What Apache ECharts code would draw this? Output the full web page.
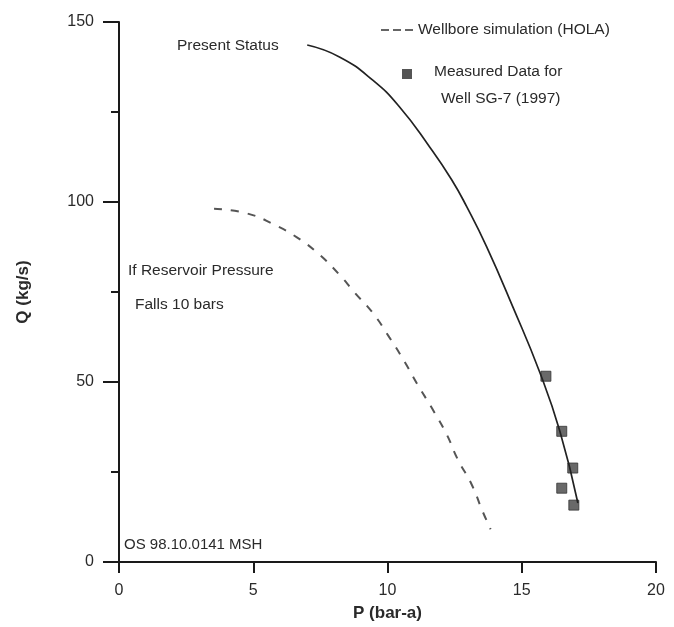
<!DOCTYPE html>
<html>
<head>
<meta charset="utf-8">
<script src="https://cdn.jsdelivr.net/npm/echarts@6/dist/echarts.min.js"></script>
<style>html,body{margin:0;padding:0;background:#fff}#c{width:674px;height:627px}</style>
</head>
<body>
<div id="c"></div>
<script>
// Present status curve (P bar-a, Q kg/s)
var presentP = [7.01, 8.21, 9.44, 10.45, 11.57, 12.39, 12.95, 13.69, 14.66, 15.67, 16.42, 17.09];
var presentQ = [143.6, 140.3, 133.9, 126.4, 115.3, 106.2, 98.7, 87.6, 71.0, 52.7, 36.3, 16.4];
// Reservoir pressure falls 10 bars curve
var fallP = [3.54, 4.78, 5.78, 6.64, 7.46, 8.21, 8.77, 9.44, 10.07, 10.63, 11.12, 11.68, 12.20, 12.61, 13.13, 13.54, 13.84];
var fallQ = [98.1, 96.8, 93.7, 90.1, 85.4, 79.8, 74.9, 69.3, 62.4, 55.7, 49.3, 42.4, 35.5, 28.6, 21.6, 14.1, 9.1];
// Measured data, well SG-7 (1997)
var measP = [15.90, 16.49, 16.90, 16.49, 16.94];
var measQ = [51.6, 36.3, 26.1, 20.5, 15.8];
var xTicks = [0, 5, 10, 15, 20];
var yTicks = [0, 50, 100, 150];

function zip(a, b) { return a.map(function (v, i) { return [v, b[i]]; }); }

var FONT = 'Liberation Sans';
var TXT = { fontFamily: FONT, fontSize: 15.5, fill: '#2a2a2a' };
function txt(s, extra) { var o = Object.assign({}, TXT, extra || {}); o.text = s; return o; }

var chart = echarts.init(document.getElementById('c'));
chart.setOption({
  animation: false,
  backgroundColor: '#fff',
  textStyle: { fontFamily: FONT },
  grid: { left: 119, right: 18, top: 22, bottom: 64 },
  xAxis: {
    type: 'value', min: xTicks[0], max: xTicks[xTicks.length - 1], interval: 5,
    name: 'P (bar-a)', nameLocation: 'middle', nameGap: 43,
    nameTextStyle: { fontFamily: FONT, fontWeight: 'bold', fontSize: 17, color: '#2a2a2a' },
    axisLine: { lineStyle: { color: '#1a1a1a', width: 2 } },
    axisTick: { length: 11, lineStyle: { color: '#1a1a1a', width: 2 } },
    axisLabel: { fontFamily: FONT, fontSize: 16, color: '#2a2a2a', margin: 21 },
    splitLine: { show: false }
  },
  yAxis: {
    type: 'value', min: yTicks[0], max: yTicks[yTicks.length - 1], interval: 50,
    name: 'Q (kg/s)', nameLocation: 'middle', nameGap: 87, nameRotate: 90,
    nameTextStyle: { fontFamily: FONT, fontWeight: 'bold', fontSize: 17, color: '#2a2a2a' },
    axisLine: { show: true, lineStyle: { color: '#1a1a1a', width: 2 } },
    axisTick: { show: true, length: 16, lineStyle: { color: '#1a1a1a', width: 2 } },
    minorTick: { show: true, splitNumber: 2, length: 8, lineStyle: { color: '#1a1a1a', width: 2 } },
    axisLabel: { fontFamily: FONT, fontSize: 16, color: '#2a2a2a', margin: 25 },
    splitLine: { show: false }
  },
  legend: [{
    data: ['Wellbore simulation (HOLA)'],
    left: 376, top: 17, itemWidth: 32, itemHeight: 10,
    textStyle: { fontFamily: FONT, fontSize: 15.5, color: '#2a2a2a' },
    icon: 'path://M0,9 L8,9 L8,10.5 L0,10.5 Z M12,9 L20,9 L20,10.5 L12,10.5 Z M24,9 L32,9 L32,10.5 L24,10.5 Z',
    itemStyle: { color: '#333' }
  }],
  series: [
    {
      name: 'Present Status', type: 'line', data: zip(presentP, presentQ),
      smooth: true, showSymbol: false, symbol: 'none',
      lineStyle: { color: '#222', width: 1.7 }
    },
    {
      name: 'Wellbore simulation (HOLA)', type: 'line', data: zip(fallP, fallQ),
      smooth: true, showSymbol: false, symbol: 'none',
      lineStyle: { color: '#555', width: 2, type: [8, 9] }
    },
    {
      name: 'Measured Data', type: 'scatter', data: zip(measP, measQ),
      symbol: 'rect', symbolSize: 10,
      itemStyle: { color: '#444', borderColor: '#333', borderWidth: 1 }
    }
  ],
  graphic: [
    { type: 'rect', left: 402, top: 69, shape: { width: 10, height: 10 }, style: { fill: '#555' } },
    { type: 'text', left: 434, top: 64, style: txt('Measured Data for') },
    { type: 'text', left: 441, top: 91, style: txt('Well SG-7 (1997)') },
    { type: 'text', left: 177, top: 38, style: txt('Present Status') },
    { type: 'text', left: 128, top: 263, style: txt('If Reservoir Pressure') },
    { type: 'text', left: 135, top: 297, style: txt('Falls 10 bars') },
    { type: 'text', left: 124, top: 537, style: txt('OS 98.10.0141 MSH', { fontSize: 15 }) }
  ]
});
</script>
</body>
</html>
